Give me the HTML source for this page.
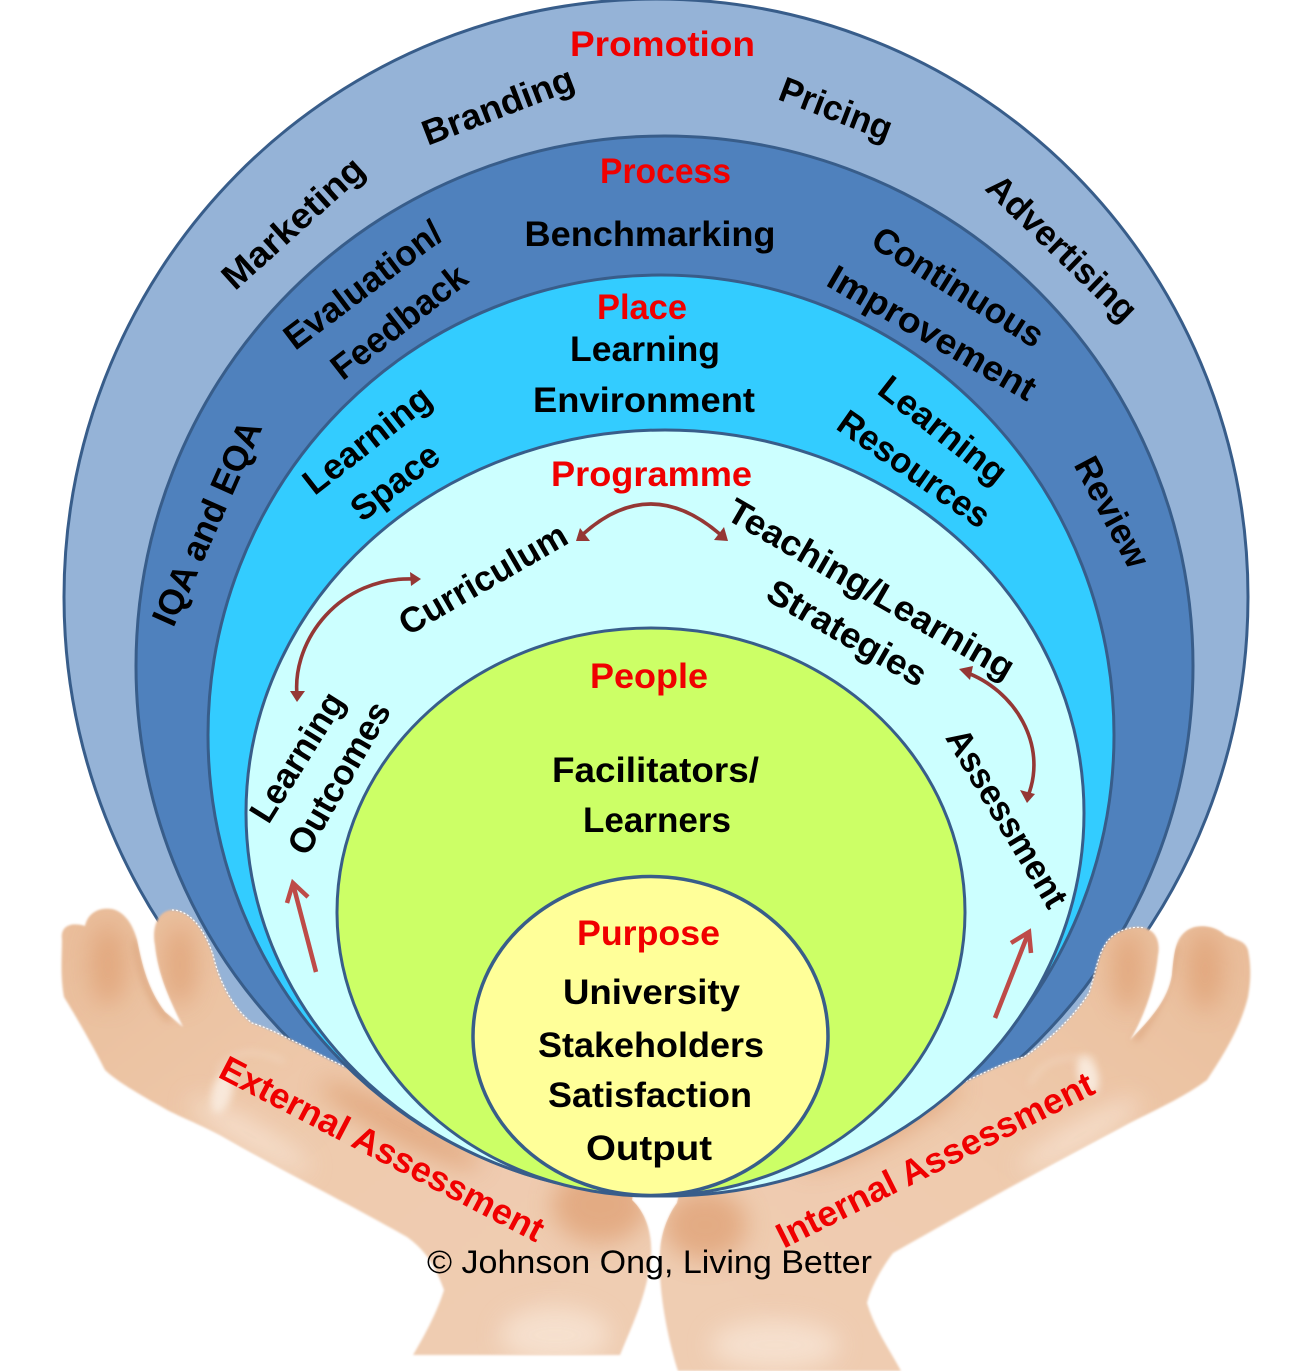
<!DOCTYPE html>
<html><head><meta charset="utf-8"><style>
html,body{margin:0;padding:0;background:#fff;width:1311px;height:1371px;overflow:hidden}
svg{display:block}
text{font-family:"Liberation Sans",sans-serif;font-weight:bold;font-size:35.500px;fill:#000;text-anchor:middle}
.r{fill:#f00000}
</style></head><body>
<svg width="1311" height="1371" viewBox="0 0 1311 1371" xmlns="http://www.w3.org/2000/svg">
<defs>
<linearGradient id="lh" x1="0" y1="0" x2="1" y2="1"><stop offset="0" stop-color="#e9bd9a"/><stop offset=".5" stop-color="#efcbae"/><stop offset="1" stop-color="#efcdb3"/></linearGradient>
<linearGradient id="rh" x1="1" y1="0" x2="0" y2="1"><stop offset="0" stop-color="#e9bd9a"/><stop offset=".5" stop-color="#efcbae"/><stop offset="1" stop-color="#efcdb3"/></linearGradient>
<filter id="b1" x="-5%" y="-5%" width="110%" height="110%"><feGaussianBlur stdDeviation="1"/></filter>
<filter id="b2" x="-60%" y="-60%" width="220%" height="220%"><feGaussianBlur stdDeviation="12"/></filter>
<filter id="b3" x="-60%" y="-60%" width="220%" height="220%"><feGaussianBlur stdDeviation="4"/></filter>
<path id="lhp" d="M62 940 C60 925 72 922 85 926 C88 912 100 907 112 909 C125 912 133 925 137 940 C142 965 148 990 165 1012 L183 1027 C170 1000 158 975 155 945 C151 925 160 910 172 910 C190 910 205 930 213 955 C220 985 235 1010 252 1023 C275 1030 310 1050 345 1067 L450 1100 L640 1150 L632 1200 C648 1215 654 1240 650 1265 C645 1300 630 1330 620 1355 L413 1355 C425 1335 438 1310 444 1290 C435 1265 425 1250 407 1237 C360 1210 290 1175 220 1135 C195 1122 175 1115 162 1107 C140 1095 115 1080 105 1070 C90 1040 72 1010 64 997 C60 975 62 955 62 940 Z"/>
<path id="rhp" d="M660 1255 C660 1235 668 1215 677 1203 L690 1150 L880 1080 L962 1083 C990 1070 1010 1060 1024 1057 C1050 1040 1075 1015 1089 993 C1095 975 1098 955 1105 945 C1112 932 1130 925 1145 928 C1158 932 1160 945 1158 955 C1155 985 1145 1015 1130 1040 C1150 1020 1168 1000 1172 975 C1174 955 1175 940 1185 932 C1195 923 1215 925 1225 935 C1235 940 1245 940 1248 950 C1252 970 1250 985 1248 997 C1240 1030 1220 1060 1207 1080 C1180 1100 1150 1112 1122 1127 C1040 1170 960 1215 893 1253 C880 1270 870 1290 867 1303 C875 1330 890 1350 901 1371 L678 1371 C668 1340 658 1290 660 1255 Z"/>
<clipPath id="clh"><use href="#lhp"/></clipPath>
<clipPath id="crh"><use href="#rhp"/></clipPath>
</defs>

<ellipse cx="656" cy="597" rx="592" ry="598" fill="#95b3d7" stroke="#385d8a" stroke-width="3"/>
<ellipse cx="664.500" cy="666" rx="528.500" ry="530" fill="#4f81bd" stroke="#385d8a" stroke-width="3"/>

<g filter="url(#b1)">
<use href="#lhp" fill="url(#lh)"/>
<use href="#rhp" fill="url(#rh)"/>
</g>
<g clip-path="url(#clh)">
<g filter="url(#b2)" fill="#dfa074" opacity=".75">
<ellipse cx="600" cy="1205" rx="48" ry="38"/>
<ellipse cx="400" cy="1125" rx="90" ry="16" transform="rotate(27 400 1125)"/>
<ellipse cx="180" cy="965" rx="16" ry="40"/>
<ellipse cx="108" cy="965" rx="18" ry="40"/>
</g>
<path d="M136 940 C140 975 150 1000 170 1020" fill="none" stroke="#dba47d" stroke-width="5" filter="url(#b3)"/>
<g filter="url(#b2)" fill="#f7e3d3" opacity=".85">
<ellipse cx="555" cy="1335" rx="55" ry="28"/>
<ellipse cx="250" cy="1135" rx="70" ry="12" transform="rotate(30 250 1135)"/>
</g>
<ellipse cx="222" cy="1092" rx="10" ry="22" fill="#f8e8da" filter="url(#b3)" transform="rotate(15 222 1092)"/>
<path d="M217 1070 Q240 1040 285 1062" fill="none" stroke="#f5dfcd" stroke-width="3" opacity=".7" filter="url(#b3)"/>
</g>
<g clip-path="url(#crh)">
<g filter="url(#b2)" fill="#dfa074" opacity=".75">
<ellipse cx="705" cy="1225" rx="42" ry="35"/>
<ellipse cx="880" cy="1125" rx="90" ry="18" transform="rotate(-27 880 1125)"/>
<ellipse cx="1128" cy="970" rx="16" ry="40"/>
<ellipse cx="1205" cy="970" rx="18" ry="40"/>
</g>
<path d="M1175 945 C1170 985 1155 1015 1135 1040" fill="none" stroke="#dba47d" stroke-width="5" filter="url(#b3)"/>
<g filter="url(#b2)" fill="#f7e3d3" opacity=".85">
<ellipse cx="775" cy="1345" rx="65" ry="25"/>
<ellipse cx="1080" cy="1135" rx="70" ry="12" transform="rotate(-30 1080 1135)"/>
</g>
<ellipse cx="1088" cy="1075" rx="10" ry="20" fill="#f8e8da" filter="url(#b3)" transform="rotate(-15 1088 1075)"/>
<path d="M1030 1085 Q1045 1050 1095 1060" fill="none" stroke="#f5dfcd" stroke-width="3" opacity=".7" filter="url(#b3)"/>
</g>
<!-- white cut edge of the hand over the circles -->
<g fill="none" stroke="#fff" stroke-width="1.200" stroke-dasharray="2 2">
<path d="M172 910 C190 910 205 930 213 955 C220 985 235 1010 252 1023 C275 1030 310 1050 345 1067"/>
<path d="M962 1083 C990 1070 1010 1060 1024 1057 C1050 1040 1075 1015 1089 993 C1095 975 1098 955 1105 945 C1112 932 1130 925 1145 928"/>
</g>

<ellipse cx="661" cy="735" rx="453" ry="460" fill="#33ccff" stroke="#385d8a" stroke-width="3"/>
<ellipse cx="665" cy="813" rx="419" ry="383" fill="#ccffff" stroke="#385d8a" stroke-width="3"/>
<ellipse cx="651" cy="912" rx="314" ry="284" fill="#ccff66" stroke="#385d8a" stroke-width="3"/>
<ellipse cx="650.500" cy="1036" rx="177.500" ry="159.500" fill="#ffff99" stroke="#385d8a" stroke-width="3.500"/>

<!-- curved arrows -->
<g fill="none" stroke="#953735" stroke-width="3.600">
<path d="M581 536 Q650 472 722 536"/>
<path d="M297 695 C292 640 340 576 414 579"/>
<path d="M965 672 C1015 690 1048 745 1028 796"/>
</g>
<g fill="#953735">
<polygon points="576,541 590,541 580,528"/>
<polygon points="728,541 714,540 724,527"/>
<polygon points="421,579 410,572 411,586"/>
<polygon points="297,702 290,691 305,691"/>
<polygon points="959,669 973,666 970,680"/>
<polygon points="1027,803 1020,790 1035,794"/>
</g>
<!-- straight arrows -->
<g fill="none" stroke="#be4b48" stroke-width="4.500">
<path d="M316 972 L293 884"/><path d="M287 903 L293 883 L308 897"/>
<path d="M995 1018 L1028 934"/><path d="M1011 943 L1029 932 L1031 953"/>
</g>

<!-- labels: outer -->
<text class="r" x="662.500" y="56" textLength="185" lengthAdjust="spacingAndGlyphs">Promotion</text>
<text transform="translate(498 106) rotate(-21)" y="12" textLength="160" lengthAdjust="spacingAndGlyphs">Branding</text>
<text transform="translate(836 109) rotate(21)" y="12" textLength="118" lengthAdjust="spacingAndGlyphs">Pricing</text>
<text transform="translate(293 223) rotate(-42)" y="12" textLength="178" lengthAdjust="spacingAndGlyphs">Marketing</text>
<text transform="translate(1062 248) rotate(44)" y="12" textLength="194" lengthAdjust="spacingAndGlyphs">Advertising</text>
<!-- process -->
<text class="r" x="665.500" y="183" textLength="131" lengthAdjust="spacingAndGlyphs">Process</text>
<text x="650" y="246" textLength="251" lengthAdjust="spacingAndGlyphs">Benchmarking</text>
<text transform="translate(363 285) rotate(-37)" y="12" textLength="188" lengthAdjust="spacingAndGlyphs">Evaluation/</text>
<text transform="translate(399 322) rotate(-38)" y="12" textLength="162" lengthAdjust="spacingAndGlyphs">Feedback</text>
<text transform="translate(958 287) rotate(32)" y="12" textLength="195" lengthAdjust="spacingAndGlyphs">Continuous</text>
<text transform="translate(932 333) rotate(30)" y="12" textLength="234" lengthAdjust="spacingAndGlyphs">Improvement</text>
<text transform="translate(1112 512) rotate(62)" y="12" textLength="120" lengthAdjust="spacingAndGlyphs">Review</text>
<text transform="translate(207 523) rotate(-66)" y="12" textLength="220" lengthAdjust="spacingAndGlyphs">IQA and EQA</text>
<!-- place -->
<text class="r" x="642" y="319" textLength="90" lengthAdjust="spacingAndGlyphs">Place</text>
<text x="645" y="361" textLength="150" lengthAdjust="spacingAndGlyphs">Learning</text>
<text x="644" y="412" textLength="222" lengthAdjust="spacingAndGlyphs">Environment</text>
<text transform="translate(367 440) rotate(-38)" y="12" textLength="152" lengthAdjust="spacingAndGlyphs">Learning</text>
<text transform="translate(395 482) rotate(-38)" y="12" textLength="102" lengthAdjust="spacingAndGlyphs">Space</text>
<text transform="translate(943 430) rotate(38)" y="12" textLength="152" lengthAdjust="spacingAndGlyphs">Learning</text>
<text transform="translate(914 469) rotate(35)" y="12" textLength="177" lengthAdjust="spacingAndGlyphs">Resources</text>
<!-- programme -->
<text class="r" x="651.500" y="486" textLength="201" lengthAdjust="spacingAndGlyphs">Programme</text>
<text transform="translate(483 579) rotate(-30)" y="12" textLength="188" lengthAdjust="spacingAndGlyphs">Curriculum</text>
<text transform="translate(871 589) rotate(30)" y="12" textLength="325" lengthAdjust="spacingAndGlyphs">Teaching/Learning</text>
<text transform="translate(847 633) rotate(30)" y="12" textLength="178" lengthAdjust="spacingAndGlyphs">Strategies</text>
<text transform="translate(1007 818) rotate(59)" y="12" textLength="202" lengthAdjust="spacingAndGlyphs">Assessment</text>
<text transform="translate(297 757) rotate(-58)" y="12" textLength="146" lengthAdjust="spacingAndGlyphs">Learning</text>
<text transform="translate(339 778) rotate(-60)" y="12" textLength="170" lengthAdjust="spacingAndGlyphs">Outcomes</text>
<!-- people -->
<text class="r" x="649" y="688" textLength="118" lengthAdjust="spacingAndGlyphs">People</text>
<text x="655.500" y="782" textLength="207" lengthAdjust="spacingAndGlyphs">Facilitators/</text>
<text x="657" y="832" textLength="148" lengthAdjust="spacingAndGlyphs">Learners</text>
<!-- purpose -->
<text class="r" x="648.500" y="945" textLength="143" lengthAdjust="spacingAndGlyphs">Purpose</text>
<text x="651.500" y="1004" textLength="177" lengthAdjust="spacingAndGlyphs">University</text>
<text x="651" y="1057" textLength="226" lengthAdjust="spacingAndGlyphs">Stakeholders</text>
<text x="650" y="1107" textLength="204" lengthAdjust="spacingAndGlyphs">Satisfaction</text>
<text x="649" y="1160" textLength="126" lengthAdjust="spacingAndGlyphs">Output</text>
<!-- hands -->
<text class="r" transform="translate(382 1149) rotate(27.500)" y="12" textLength="360" lengthAdjust="spacingAndGlyphs">External Assessment</text>
<text class="r" transform="translate(935 1160) rotate(-26.500)" y="12" textLength="350" lengthAdjust="spacingAndGlyphs">Internal Assessment</text>
<text x="649.500" y="1273" textLength="445" lengthAdjust="spacingAndGlyphs" style="font-weight:normal;font-size:32px">© Johnson Ong, Living Better</text>
</svg>
</body></html>
